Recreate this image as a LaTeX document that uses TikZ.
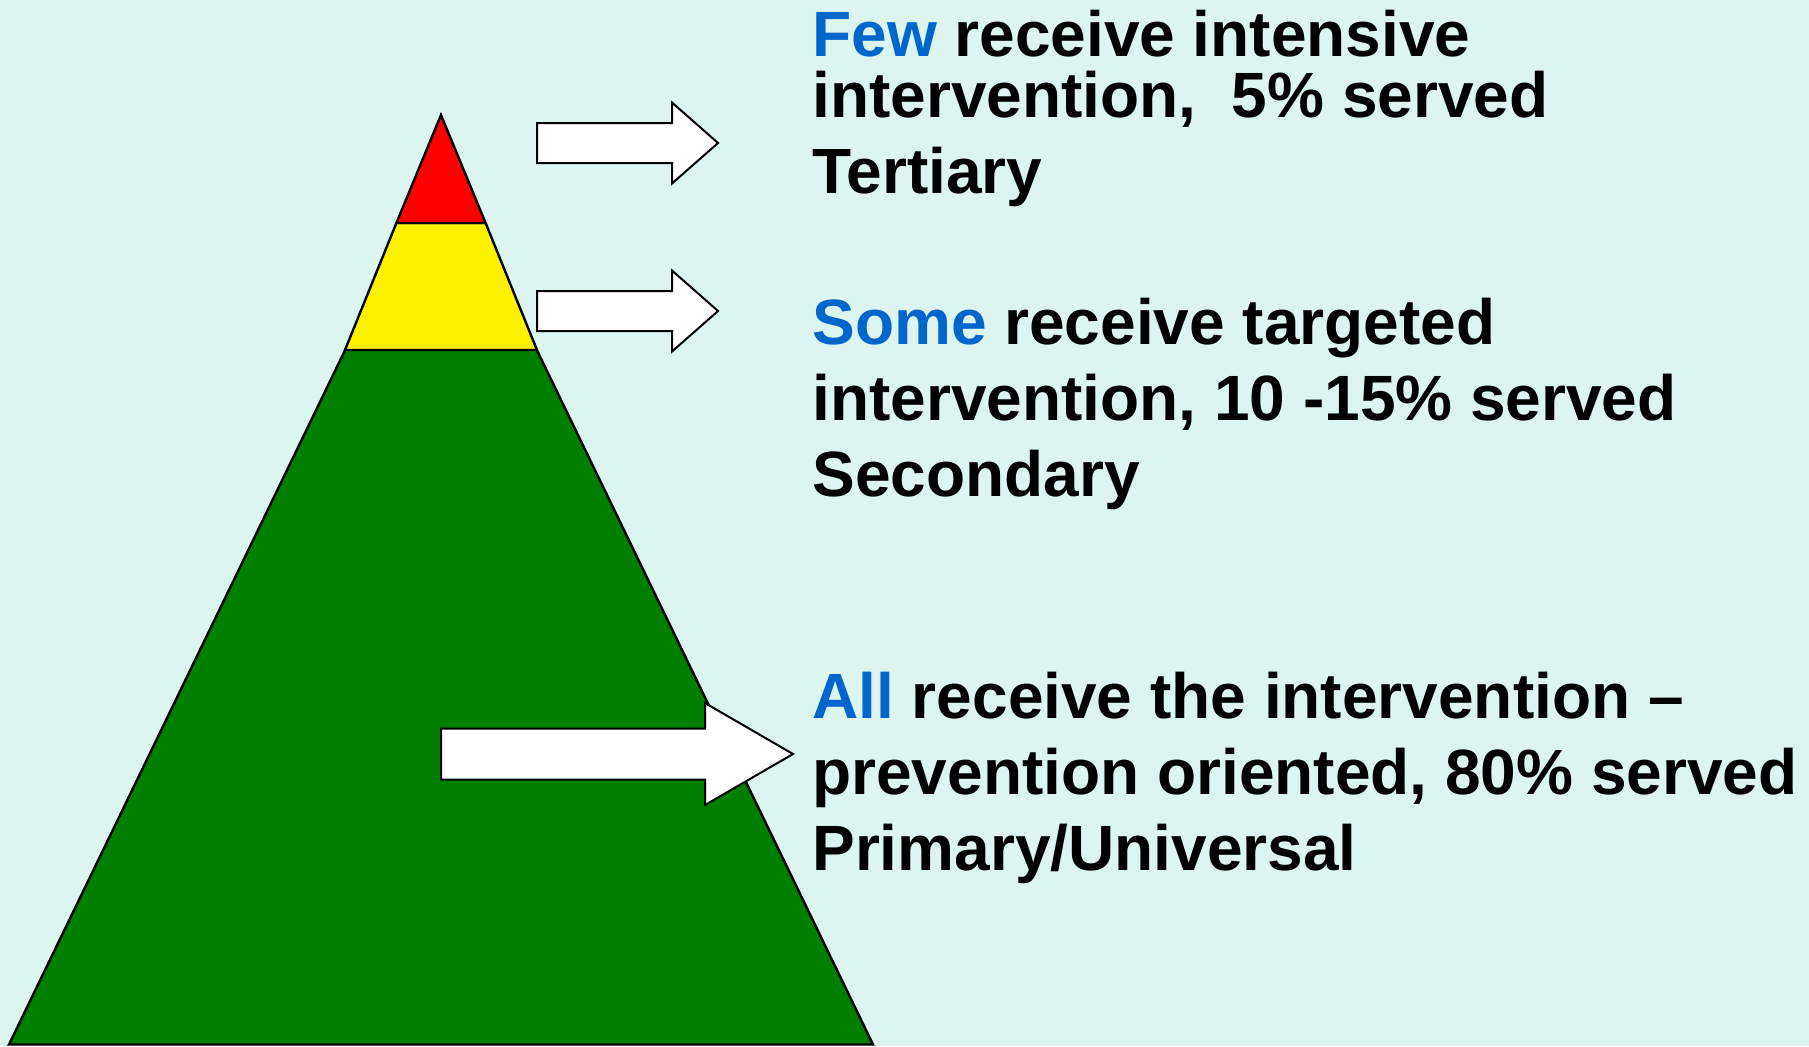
\documentclass[tikz,border=0pt]{standalone}
\usepackage{fontspec}
\setmainfont{Liberation Sans}
\definecolor{bgmint}{RGB}{220,245,241}
\definecolor{tierblue}{RGB}{0,102,204}
\definecolor{tiergreen}{RGB}{0,128,0}
\tikzset{
    tier/.style={draw=black, line width=1.2pt},
    blockarrow/.style={draw=black, fill=white, line width=1pt},
    tierlabel/.style={anchor=north west, inner sep=0pt, align=left,
        font=\fontsize{32}{38}\selectfont\bfseries}
}
\newcommand{\tierword}[1]{\textcolor{tierblue}{#1}}

\begin{document}
\begin{tikzpicture}[x=0.5pt, y=-0.5pt]
    % Background
    \fill[bgmint] (0,0) rectangle (1809,1046);
    \useasboundingbox (0,0) rectangle (1809,1046);

    % Pyramid
    \filldraw[tier, fill=tiergreen] (441,152) -- (873,1044.5) -- (9,1044.5) -- cycle;
    \filldraw[tier, fill=yellow] (396.4,223) -- (485.6,223) -- (537,350) -- (345,350) -- cycle;
    \filldraw[tier, fill=red] (441,115) -- (485.6,223) -- (396.4,223) -- cycle;

    % Arrows
    \foreach \xa/\xb/\xc/\ym/\sh/\hh in {537/672/718/143/20/40.5, 537/672/718/311/20/40.5, 441/705/793/754/25.5/51} {
        \filldraw[blockarrow] (\xa,\ym-\sh) -- (\xb,\ym-\sh) -- (\xb,\ym-\hh) -- (\xc,\ym)
            -- (\xb,\ym+\hh) -- (\xb,\ym+\sh) -- (\xa,\ym+\sh) -- cycle;
    }

    % Labels
    \node[tierlabel] (few) at (812,10)
        {\tierword{Few} receive intensive\\[-7.5pt] intervention,\ \ 5\% served\\ Tertiary};
    \node[tierlabel] (some) at (812,298)
        {\tierword{Some} receive targeted\\ intervention, 10 -15\% served\\ Secondary};
    \node[tierlabel] (all) at (812,672)
        {\tierword{All} receive the intervention --\\ prevention oriented, 80\% served\\ Primary/Universal};
\end{tikzpicture}
\end{document}
